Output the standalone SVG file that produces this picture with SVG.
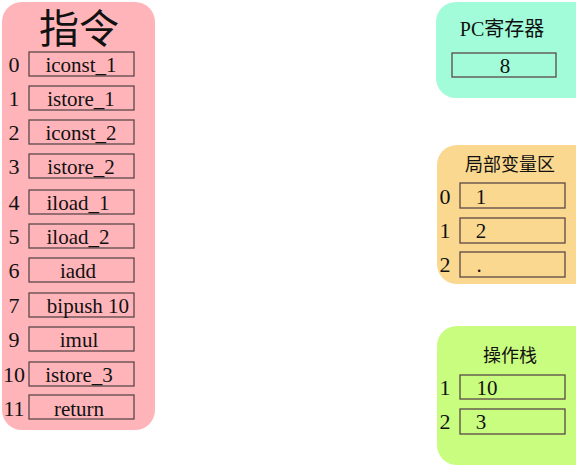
<svg xmlns="http://www.w3.org/2000/svg" width="576" height="467" viewBox="0 0 576 467">
<style>
text{font-family:"Liberation Serif","Noto Sans CJK SC",serif;fill:#111}
.cell{fill:none;stroke:#5a4848;stroke-width:1.3}
.v{font-size:21px;text-anchor:middle}
.n{font-size:22px;text-anchor:middle}
.t{font-size:19px;text-anchor:middle}
</style>
<rect width="576" height="467" fill="#ffffff"/>
<g id="instructions">
<rect x="2" y="2" width="153" height="428" rx="20" fill="#ffb4ba"/>
<text x="79" y="43" text-anchor="middle" font-size="40">指令</text>
<g class="row"><text class="n" x="14" y="72">0</text><rect class="cell" x="29" y="52" width="105" height="24"/><text class="v" x="81" y="72">iconst_1</text></g>
<g class="row"><text class="n" x="14" y="106">1</text><rect class="cell" x="29" y="86" width="105" height="24"/><text class="v" x="81" y="106">istore_1</text></g>
<g class="row"><text class="n" x="14" y="140">2</text><rect class="cell" x="29" y="120" width="105" height="24"/><text class="v" x="81" y="140">iconst_2</text></g>
<g class="row"><text class="n" x="14" y="174">3</text><rect class="cell" x="29" y="154" width="105" height="24"/><text class="v" x="81" y="174">istore_2</text></g>
<g class="row"><text class="n" x="14" y="210">4</text><rect class="cell" x="29" y="190" width="105" height="24"/><text class="v" x="78" y="210">iload_1</text></g>
<g class="row"><text class="n" x="14" y="244">5</text><rect class="cell" x="29" y="224" width="105" height="24"/><text class="v" x="78" y="244">iload_2</text></g>
<g class="row"><text class="n" x="14" y="278">6</text><rect class="cell" x="29" y="258" width="105" height="24"/><text class="v" x="78" y="278">iadd</text></g>
<g class="row"><text class="n" x="14" y="313">7</text><rect class="cell" x="29" y="293" width="105" height="24"/><text class="v" x="88" y="313">bipush 10</text></g>
<g class="row"><text class="n" x="14" y="347">9</text><rect class="cell" x="29" y="327" width="105" height="24"/><text class="v" x="79" y="347">imul</text></g>
<g class="row"><text class="n" x="14" y="382">10</text><rect class="cell" x="29" y="362" width="105" height="24"/><text class="v" x="79" y="382">istore_3</text></g>
<g class="row"><text class="n" x="14" y="416">11</text><rect class="cell" x="29" y="395" width="105" height="24"/><text class="v" x="79" y="416">return</text></g>
</g>
<g id="pc">
<rect x="436" y="2" width="160" height="96" rx="20" fill="#a2fcd9"/>
<text x="502" y="36" font-size="20" text-anchor="middle">PC寄存器</text>
<rect class="cell" x="452" y="53" width="104" height="24"/>
<text class="v" x="505" y="73">8</text>
</g>
<g id="locals">
<rect x="437" y="145" width="160" height="139" rx="20" fill="#fbd88f"/>
<text x="510" y="171" font-size="18" text-anchor="middle">局部变量区</text>
<text class="n" x="445" y="204">0</text><rect class="cell" x="460" y="183" width="105" height="25"/><text class="v" x="481" y="204">1</text>
<text class="n" x="445" y="238">1</text><rect class="cell" x="460" y="218" width="105" height="25"/><text class="v" x="481" y="238">2</text>
<text class="n" x="445" y="272">2</text><rect class="cell" x="460" y="252" width="105" height="25"/><text class="v" x="479" y="272">.</text>
</g>
<g id="stack">
<rect x="437" y="326" width="160" height="139" rx="20" fill="#c9fd7f"/>
<text x="510" y="362" font-size="18" text-anchor="middle">操作栈</text>
<text class="n" x="445" y="395">1</text><rect class="cell" x="460" y="375" width="105" height="24"/><text class="v" x="487" y="395">10</text>
<text class="n" x="445" y="429">2</text><rect class="cell" x="460" y="409" width="105" height="25"/><text class="v" x="481" y="429">3</text>
</g>
<g id="connectors"/>
</svg>
